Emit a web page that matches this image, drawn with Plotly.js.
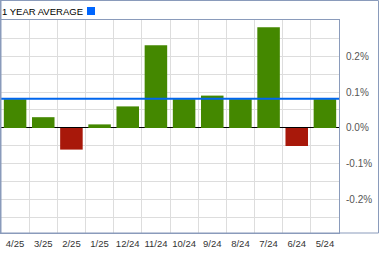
<!DOCTYPE html>
<html>
<head>
<meta charset="utf-8">
<script src="https://cdn.plot.ly/plotly-3.0.1.min.js"></script>
<style>html,body{margin:0;padding:0;background:#fff;}#chart{width:379px;height:255px;}</style>
</head>
<body>
<div id="chart"></div>
<script>
var categories = ['4/25','3/25','2/25','1/25','12/24','11/24','10/24','9/24','8/24','7/24','6/24','5/24'];
var values = [0.08, 0.03, -0.06, 0.01, 0.06, 0.23, 0.08, 0.09, 0.08, 0.28, -0.05, 0.08];
var average = 0.081;
var yTickVals = [-0.2, -0.1, 0, 0.1, 0.2];
var yTickText = ['-0.2%', '-0.1%', '0.0%', '0.1%', '0.2%'];
var titleText = '1 YEAR AVERAGE';

var GREEN = '#448800', RED = '#a8180a', BLUE = '#0066ee', BORDER = '#8a9bbb', GRID = '#dddddd';
var barColors = values.map(function(v){ return v >= 0 ? GREEN : RED; });

var W = 379, H = 255, ml = 1, mr = 40, mt = 20, mb = 22;
var pw = W - ml - mr, ph = H - mt - mb;
function px(x){ return (x - ml) / pw; }
function py(y){ return (H - mb - y) / ph; }

var data = [{
  type: 'bar',
  x: categories,
  y: values,
  marker: {color: barColors, line: {width: 0}},
  hoverinfo: 'skip'
}];

var layout = {
  width: W, height: H,
  margin: {l: ml, r: mr, t: mt, b: mb, pad: 0},
  paper_bgcolor: '#ffffff',
  plot_bgcolor: '#ffffff',
  showlegend: false,
  bargap: 0.2,
  font: {family: 'Liberation Sans, Arial, sans-serif'},
  xaxis: {
    type: 'category',
    tickson: 'boundaries',
    tickangle: 0,
    automargin: false,
    showgrid: true, gridcolor: GRID, gridwidth: 1,
    ticks: '', zeroline: false,
    ticklabelstandoff: 2,
    showline: true, mirror: true, linecolor: BORDER, linewidth: 1,
    tickfont: {size: 9.5, color: '#333333'},
    fixedrange: true
  },
  yaxis: {
    side: 'right',
    automargin: false,
    range: [-0.2917, 0.3],
    tickmode: 'array', tickvals: yTickVals, ticktext: yTickText,
    ticks: '', ticklabelstandoff: 4,
    showgrid: true, gridcolor: GRID, gridwidth: 1,
    minor: {tickmode: 'linear', tick0: 0, dtick: 0.05, showgrid: true, gridcolor: GRID, gridwidth: 1},
    zeroline: true, zerolinecolor: '#000000', zerolinewidth: 1,
    showline: true, mirror: true, linecolor: BORDER, linewidth: 1,
    tickfont: {size: 10, color: '#555555'},
    fixedrange: true
  },
  shapes: [
    {type: 'line', xref: 'paper', yref: 'y', x0: 0, x1: 1, y0: average, y1: average,
     line: {color: BLUE, width: 2}, layer: 'above'},
    {type: 'rect', xref: 'paper', yref: 'paper', x0: px(0.5), x1: px(378.5), y0: py(233), y1: py(0.5),
     line: {color: BORDER, width: 1}, fillcolor: 'rgba(0,0,0,0)', layer: 'above'},
    {type: 'line', xref: 'paper', yref: 'paper', x0: px(0.5), x1: px(0.5), y0: py(233), y1: py(0),
     line: {color: BORDER, width: 2}, layer: 'above'},
    {type: 'rect', xref: 'paper', yref: 'paper', x0: px(87), x1: px(95), y0: py(15), y1: py(7),
     line: {width: 0}, fillcolor: '#0066ff', layer: 'above'}
  ],
  annotations: [
    {xref: 'paper', yref: 'paper', x: px(0), y: py(11), xanchor: 'left', yanchor: 'middle',
     text: titleText, showarrow: false, font: {size: 9.5, color: '#000000'}}
  ]
};

Plotly.newPlot('chart', data, layout, {staticPlot: true, displayModeBar: false});
</script>
</body>
</html>
